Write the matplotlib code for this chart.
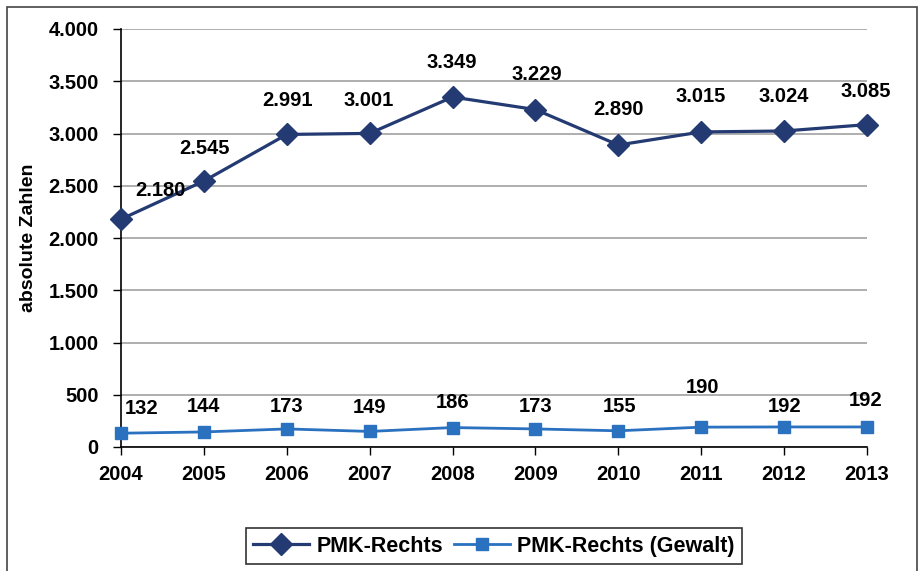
import matplotlib
matplotlib.use("Agg")
import matplotlib.pyplot as plt
from matplotlib.patches import Rectangle

plt.rcParams['font.family'] = ['Liberation Sans', 'DejaVu Sans']
plt.rcParams['font.weight'] = 'bold'

# data
years = [2004, 2005, 2006, 2007, 2008, 2009, 2010, 2011, 2012, 2013]
pmk_rechts = [2180, 2545, 2991, 3001, 3349, 3229, 2890, 3015, 3024, 3085]
pmk_gewalt = [132, 144, 173, 149, 186, 173, 155, 190, 192, 192]
yticks = [0, 500, 1000, 1500, 2000, 2500, 3000, 3500, 4000]

# label offsets in pixels (dx, dy)
off_rechts = [(39, 29), (1, 33), (1, 34), (-1, 33), (-1, 35), (1, 35), (0, 35), (-1, 35), (0, 34), (-1, 33)]
off_gewalt = [(21, 25), (0, 25), (0, 22), (0, 24), (0, 25), (0, 22), (1, 24), (1, 40), (0, 20), (-1, 26)]

def de_fmt(v):
    return f"{v:,}".replace(",", ".")

navy = "#233a72"
blue = "#2a71c0"
fs = 14.5

fig = plt.figure(figsize=(9.22, 5.71), dpi=100)
ax = fig.add_axes([121/922, 1-447/571, 746/922, 418/571])

ax.plot(years, pmk_rechts, color=navy, lw=2.3, marker='D', ms=11, label="PMK-Rechts", zorder=3, clip_on=False)
ax.plot(years, pmk_gewalt, color=blue, lw=2.0, marker='s', ms=8.5, label="PMK-Rechts (Gewalt)", zorder=3, clip_on=False)

for x, y, (dx, dy) in zip(years, pmk_rechts, off_rechts):
    ax.annotate(de_fmt(y), (x, y), xytext=(dx, dy), textcoords='offset pixels',
                ha='center', va='center', fontsize=fs, fontweight='bold')
for x, y, (dx, dy) in zip(years, pmk_gewalt, off_gewalt):
    ax.annotate(de_fmt(y), (x, y), xytext=(dx, dy), textcoords='offset pixels',
                ha='center', va='center', fontsize=fs, fontweight='bold')

ax.set_xlim(years[0], years[-1])
ax.set_ylim(0, 4000)
ax.set_xticks(years)
ax.set_yticks(yticks)
ax.set_yticklabels([de_fmt(v) for v in yticks])
ax.tick_params(axis='both', labelsize=fs, length=6, width=1, direction='out', color='black')
ax.tick_params(axis='y', pad=10)
ax.tick_params(axis='x', pad=7)
ax.yaxis.grid(True, color='#a8a8a8', lw=1.3)
ax.set_axisbelow(True)
for s in ['top', 'right']:
    ax.spines[s].set_visible(False)
ax.spines['left'].set_linewidth(1.2)
ax.spines['bottom'].set_linewidth(1.2)
ax.set_ylabel("absolute Zahlen", fontsize=14, fontweight='bold', labelpad=8)

leg = ax.legend(loc='center', bbox_to_anchor=(0.5, -0.237), ncol=2, fontsize=15.5,
                frameon=True, fancybox=False, edgecolor='black', borderpad=0.35,
                handlelength=2.6, handletextpad=0.35, columnspacing=0.5)
leg.get_frame().set_linewidth(1.2)

fig.patches.append(Rectangle((7/922, -0.05), 910/922, 1.05 - 7/571, transform=fig.transFigure,
                             fill=False, edgecolor='#444444', lw=1.2))

plt.savefig("out.png", dpi=100)
